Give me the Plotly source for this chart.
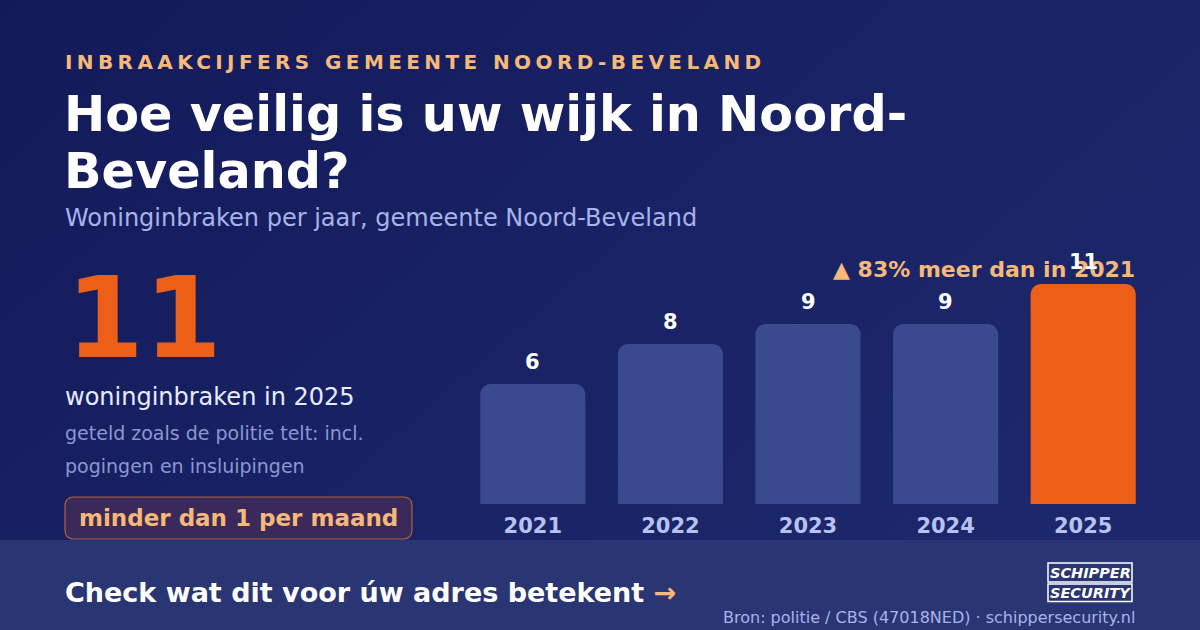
import base64
import plotly.graph_objects as go

# ---- data ----
years = ["2021", "2022", "2023", "2024", "2025"]
counts = [6, 8, 9, 9, 11]
eyebrow = "INBRAAKCIJFERS GEMEENTE NOORD-BEVELAND"
title_lines = ["Hoe veilig is uw wijk in Noord-", "Beveland?"]
subtitle = "Woninginbraken per jaar, gemeente Noord-Beveland"
note_lines = ["geteld zoals de politie telt: incl.", "pogingen en insluipingen"]
pill_text = "minder dan 1 per maand"
cta_text = "Check wat dit voor úw adres betekent"
source_text = "Bron: politie / CBS (47018NED) · schippersecurity.nl"
logo_lines = ["SCHIPPER", "SECURITY"]

W, H = 1200, 630
FONT = "DejaVu Sans"
ORANGE = "#eb5f17"
PEACH = "#f8b877"
BAR = "#3a4a8e"


def px(x):
    return x / W


def py(y):
    return 1 - y / H


bar_colors = [BAR] * (len(counts) - 1) + [ORANGE]

fig = go.Figure()
fig.add_trace(go.Bar(
    x=years, y=counts, marker=dict(color=bar_colors, cornerradius=10, line=dict(width=0)),
    hoverinfo="skip", showlegend=False,
))

# background gradient image
svg = (
    f'<svg xmlns="http://www.w3.org/2000/svg" width="{W}" height="{H}">'
    '<defs><linearGradient id="g" x1="0" y1="0" x2="1" y2="0.6">'
    '<stop offset="0" stop-color="#131a5a"/><stop offset="1" stop-color="#1d286c"/>'
    '</linearGradient></defs>'
    f'<rect width="{W}" height="{H}" fill="url(#g)"/></svg>'
)
uri = "data:image/svg+xml;base64," + base64.b64encode(svg.encode()).decode()

annotations = []


def add_text(text, x, y, size, color, bold=False, xanchor="left", yanchor="middle", **kw):
    t = f"<b>{text}</b>" if bold else text
    annotations.append(dict(
        text=t, x=px(x), y=py(y), xref="paper", yref="paper", xanchor=xanchor, yanchor=yanchor,
        showarrow=False, font=dict(family=FONT, size=size, color=color), **kw))


add_text(f'<span style="letter-spacing:4.4px">{eyebrow}</span>', 63, 62, 20, "#f5b97a", bold=True)
add_text(title_lines[0], 62, 114, 49.3, "#ffffff", bold=True)
add_text(title_lines[1], 62, 171, 49.3, "#ffffff", bold=True)
add_text(subtitle, 63, 218, 24, "#a8b3ea")
add_text(str(counts[-1]), 64, 318, 112, ORANGE, bold=True)
add_text(f"woninginbraken in {years[-1]}", 63, 397, 24, "#e8ecff")
add_text(note_lines[0], 63, 433, 19, "#8c97d2")
add_text(note_lines[1], 63, 466, 19, "#8c97d2")
add_text(pill_text, 238.5, 518, 23, PEACH, bold=True, xanchor="center")

pct = round((counts[-1] - counts[0]) / counts[0] * 100)
add_text(f"▲ {pct}% meer dan in {years[0]}", 1137, 269, 22, PEACH, bold=True, xanchor="right")

add_text(f'{cta_text} <span style="color:{PEACH}">→</span>', 63, 592, 27, "#ffffff", bold=True)
add_text(source_text, 1137, 617, 16, "#a8b3ea", xanchor="right")
add_text(f"<i>{logo_lines[0]}</i>", 1090, 573, 14.5, "#ffffff", bold=True, xanchor="center")
add_text(f"<i>{logo_lines[1]}</i>", 1090, 592.5, 14.5, "#ffffff", bold=True, xanchor="center")

# value labels above bars (x given as category index)
for i, v in enumerate(counts):
    annotations.append(dict(
        text=f"<b>{v}</b>", x=i, y=v, xref="x", yref="y", yshift=22, yanchor="middle",
        showarrow=False, font=dict(family=FONT, size=21, color="#ffffff")))


def rounded_rect(x0, y0, x1, y1, r):
    rx, ry = r / W, r / H
    X0, X1 = px(x0), px(x1)
    Y0, Y1 = py(y0), py(y1)  # Y0 top, Y1 bottom
    return (f"M {X0+rx},{Y0} L {X1-rx},{Y0} Q {X1},{Y0} {X1},{Y0-ry} "
            f"L {X1},{Y1+ry} Q {X1},{Y1} {X1-rx},{Y1} L {X0+rx},{Y1} "
            f"Q {X0},{Y1} {X0},{Y1+ry} L {X0},{Y0-ry} Q {X0},{Y0} {X0+rx},{Y0} Z")


shapes = [
    # bottom band
    dict(type="rect", xref="paper", yref="paper", x0=0, x1=1, y0=0, y1=py(540),
         fillcolor="#2a3573", line=dict(width=0), layer="below"),
    # pill
    dict(type="path", xref="paper", yref="paper", path=rounded_rect(65, 497, 412, 539, 9),
         fillcolor="#3a2a5c", line=dict(color="#b4623c", width=1.2), layer="below"),
    # logo boxes
    dict(type="rect", xref="paper", yref="paper", x0=px(1048), x1=px(1132), y0=py(582), y1=py(563),
         fillcolor="rgba(0,0,0,0)", line=dict(color="#ffffff", width=1.5)),
    dict(type="rect", xref="paper", yref="paper", x0=px(1048), x1=px(1132), y0=py(601.5), y1=py(584),
         fillcolor="rgba(0,0,0,0)", line=dict(color="#ffffff", width=1.5)),
]

fig.update_layout(
    width=W, height=H,
    margin=dict(l=0, r=0, t=0, b=0, autoexpand=False),
    paper_bgcolor="#161e60", plot_bgcolor="rgba(0,0,0,0)",
    bargap=0.236,
    images=[dict(source=uri, xref="paper", yref="paper", x=0, y=1, sizex=1, sizey=1,
                 sizing="stretch", layer="below", xanchor="left", yanchor="top")],
    annotations=annotations, shapes=shapes,
    xaxis=dict(type="category", domain=[px(464), px(1152)], range=[-0.5, len(years) - 0.5],
               showgrid=False, zeroline=False, showline=False, automargin=False,
               ticks="", tickfont=dict(family=FONT, size=21, color="#b8c2f0", weight="bold"),
               ticklabelstandoff=7, fixedrange=True),
    yaxis=dict(domain=[py(504), py(250)], range=[0, 12.7], visible=False, fixedrange=True,
               automargin=False),
    font=dict(family=FONT),
)

fig.write_html("out.html", config={"displayModeBar": False})
